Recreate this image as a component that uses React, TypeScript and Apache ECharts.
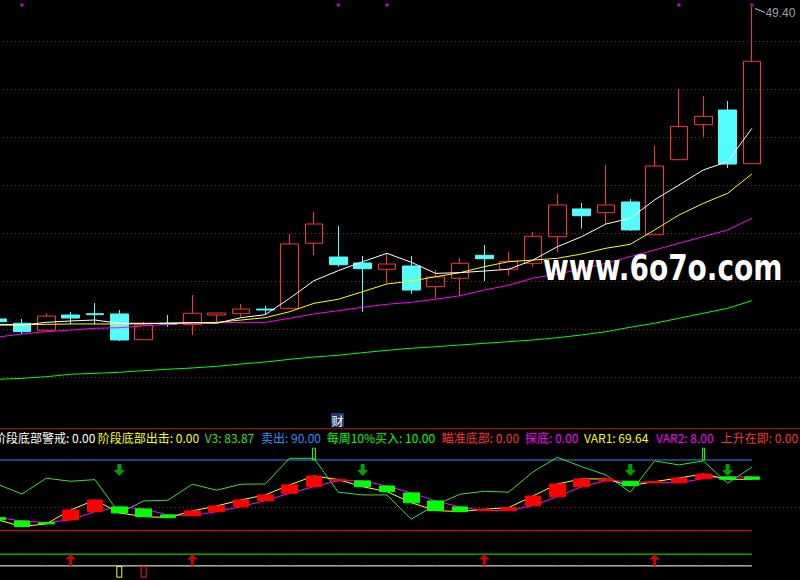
import { useEffect, useRef } from 'react';
import * as echarts from 'echarts';

// ---------- data ----------
const DAYS = ['01','02','03','04','05','06','07','08','09','10','11','12','13','14','15','16',
  '17','18','19','20','21','22','23','24','25','26','27','28','29','30','31','32'];

const OPEN = [22.66, 22.29, 21.69, 23.00, 23.11, 23.09, 20.88, 22.29, 22.17, 23.00, 23.11, 23.51, 23.57, 29.15, 27.97, 27.46,
  26.92, 27.20, 25.43, 26.15, 28.12, 26.92, 27.43, 29.71, 32.09, 31.77, 32.69, 29.88, 36.31, 39.31, 40.57, 35.97];
const CLOSE = [22.43, 21.57, 22.91, 22.74, 23.03, 20.86, 22.14, 22.20, 23.15, 23.17, 23.51, 23.43, 29.09, 30.80, 27.31, 26.97,
  27.37, 25.14, 26.26, 27.43, 27.83, 27.60, 29.75, 32.43, 31.51, 32.43, 30.29, 35.77, 39.17, 40.03, 35.94, 44.75];
const LOW = [22.35, 21.37, 21.69, 22.20, 22.20, 20.77, 20.88, 22.00, 21.29, 22.37, 22.85, 23.09, 23.57, 28.12, 27.14, 23.28,
  25.72, 24.80, 24.46, 24.63, 25.91, 26.37, 27.14, 28.34, 30.40, 30.80, 30.20, 29.88, 36.31, 38.28, 35.60, 35.97];
const HIGH = [22.75, 22.66, 23.17, 23.26, 24.03, 23.43, 22.40, 23.00, 24.71, 23.17, 23.94, 23.77, 29.94, 31.83, 30.63, 28.06,
  28.29, 28.06, 26.86, 27.89, 29.00, 28.40, 30.11, 33.37, 32.60, 35.86, 32.94, 37.49, 42.35, 41.77, 41.34, 49.40];

const MA5 = [22.14, 22.14, 22.37, 22.49, 22.57, 22.29, 22.29, 22.29, 22.34, 22.29, 22.77, 23.03, 24.43, 25.94, 26.80, 27.57,
  28.29, 27.52, 26.57, 26.63, 26.77, 26.92, 27.71, 28.85, 29.71, 30.80, 31.29, 32.86, 34.14, 35.43, 36.14, 39.00];
const MA10 = [22.20, 22.17, 22.20, 22.23, 22.23, 22.23, 22.25, 22.29, 22.34, 22.37, 22.57, 22.77, 23.28, 24.00, 24.35, 25.00,
  25.66, 25.91, 26.28, 26.63, 27.14, 27.57, 27.71, 27.86, 28.23, 28.72, 29.06, 30.29, 31.57, 32.57, 33.43, 35.09];
const MA20 = [21.11, 21.37, 21.57, 21.71, 21.86, 21.91, 22.06, 22.20, 22.29, 22.34, 22.37, 22.37, 22.72, 23.09, 23.37, 23.66,
  23.92, 24.09, 24.35, 24.65, 25.14, 25.55, 26.15, 26.51, 26.94, 27.43, 28.00, 28.57, 29.15, 29.71, 30.29, 31.29];
const MA60 = [17.49, 17.57, 17.71, 17.92, 18.00, 18.09, 18.23, 18.35, 18.46, 18.60, 18.80, 18.97, 19.20, 19.40, 19.55, 19.77,
  19.97, 20.15, 20.28, 20.43, 20.57, 20.71, 20.86, 21.05, 21.29, 21.57, 21.95, 22.29, 22.72, 23.15, 23.57, 24.23];

const TOP_MARK_DAYS = [1, 14, 16, 28, 31];
const TOP_MARK_LEVEL = 49.57;

// lower panel
const V3 = [69.3, 61.1, 74.5, 71.9, 73.3, 44.7, 55.2, 55.8, 69.4, 64.3, 69.4, 69.6, 91.4, 91.4, 62.6, 60.3,
  60.3, 39.7, 51.8, 60.9, 63.4, 62.6, 79.8, 92.3, 84.3, 77.3, 62.6, 89.2, 85.8, 89.2, 70.2, 83.87];
const FAST = [39.1, 33.4, 35.7, 47.5, 56.0, 45.0, 41.9, 41.0, 46.7, 50.9, 56.0, 60.3, 68.8, 76.4, 73.3, 67.3,
  63.1, 53.7, 47.0, 46.1, 48.1, 49.5, 59.4, 69.6, 73.9, 73.9, 68.2, 71.6, 74.7, 78.1, 73.6, 73.6];
const SLOW = [41.0, 38.2, 36.8, 39.1, 46.1, 50.1, 48.4, 43.3, 42.7, 46.1, 50.3, 55.4, 61.7, 67.3, 72.4, 72.2,
  67.9, 62.0, 55.2, 50.1, 47.0, 47.0, 51.2, 58.8, 67.3, 72.4, 71.9, 70.7, 70.7, 74.1, 75.6, 75.6];

const SELL_LEVEL = 90;
const LOW_LEVEL = 30;
const BUY_LEVEL = 10;
const ZERO_LEVEL = 0;

const DOWN_ARROW_DAYS = [5, 15, 26, 30];
const DOWN_ARROW_LEVEL = 81.5;
const UP_ARROW_DAYS = [3, 8, 20, 27];
const UP_ARROW_LEVEL = 4.9;
const STICK_DAYS = [13, 29];
const STICK_RANGE = [90, 100];
const BOTTOM_BAR_DAYS = [5, 6];
const BOTTOM_BAR_VALUE = -10;

const LEGEND_NAMES = ['阶段底部警戒', '阶段底部出击', 'V3', '卖出', '每周10%买入', '瞄准底部', '探底', 'VAR1', 'VAR2', '上升在即'];
const LEGEND_VALUES = [0, 0, V3[V3.length - 1], SELL_LEVEL, BUY_LEVEL, 0, 0, 69.64, 8, 0];

// ---------- layout / style ----------
// the chart canvas starts 15px left of the window so that the first (partial) candle is cut like in the source
const SHIFT = 15;
const LEGEND_X = [-6, 97.7, 204.7, 261, 326.7, 441.7, 525, 584, 656, 720.7];
const LEGEND_COLORS = ['#ffffff', '#ffff00', '#33e033', '#2a8cff', '#00ff00', '#ff3232', '#ff00ff', '#ffff00', '#ff00ff', '#ff3232'];

const GL = 0.5;
const GR = 35.9;
const DOT = '#8a2020';

function buildOption() {
  const maxHigh = Math.max(...HIGH);
  const maxIdx = HIGH.indexOf(maxHigh);
  const level = (v: number) => DAYS.map(() => v);

  const downArrow = 'path://M3.5,0 L7.5,0 L7.5,6 L11,6 L5.5,12 L0,6 L3.5,6 Z';
  const upArrow = 'path://M5.5,0 L11,5.5 L7,5.5 L7,12 L4,12 L4,5.5 L0,5.5 Z';
  const X = (px: number) => px + SHIFT;

  const graphic: any[] = [
    { type: 'line', z: 50, shape: { x1: X(0), y1: 428.5, x2: X(800), y2: 428.5 }, style: { stroke: '#c00000', lineWidth: 1 } },
    { type: 'rect', z: 50, shape: { x: X(331), y: 413, width: 13, height: 14 }, style: { fill: '#1b3b72' } },
    {
      type: 'text', z: 51, x: X(337.5), y: 420,
      style: { text: '财', fill: '#ffffff', font: '12px "Noto Sans CJK SC"', align: 'center', verticalAlign: 'middle', textAlign: 'center', textVerticalAlign: 'middle' },
    },
    {
      type: 'text', z: 60, x: X(543), y: 268, scaleX: 0.8,
      style: { text: 'www.6o7o.com', fill: '#ffffff', font: 'bold 35px "DejaVu Sans"', align: 'left', verticalAlign: 'middle', textAlign: 'left', textVerticalAlign: 'middle' },
    },
    { type: 'line', z: 50, shape: { x1: X(755), y1: 8.5, x2: X(765), y2: 12.5 }, style: { stroke: '#c8c8c8', lineWidth: 1 } },
  ];
  LEGEND_NAMES.forEach((name, i) => {
    graphic.push({
      type: 'text', z: 50, x: X(LEGEND_X[i]), y: 437,
      style: {
        text: `${name}: ${LEGEND_VALUES[i].toFixed(2)}`, fill: LEGEND_COLORS[i], font: '12px "Noto Sans CJK SC"',
        align: 'left', verticalAlign: 'middle', textAlign: 'left', textVerticalAlign: 'middle',
      },
    });
  });

  const lineS = (data: number[], color: string, xi: number, z = 3) => ({
    type: 'line', xAxisIndex: xi, yAxisIndex: xi, data, symbol: 'none', z,
    lineStyle: { color, width: 1 }, itemStyle: { color }, silent: true,
  });

  const gridAxisY = (gi: number, max: number) => ({
    type: 'value', gridIndex: gi, min: 0, max, interval: 1,
    axisLine: { show: false }, axisTick: { show: false }, axisLabel: { show: false },
    splitLine: { show: true, lineStyle: { color: DOT, width: 1, type: [1, 3], dashOffset: 1 } },
  });

  return {
    animation: false,
    backgroundColor: '#000000',
    grid: [
      { left: GL, right: GR, top: 0, height: 420 },
      { left: GL, right: GR, top: 436.44, height: 143.69 },
      { left: SHIFT, right: 0, top: 41, height: 336 },
      { left: SHIFT, right: 0, top: 507, height: 100 },
    ],
    xAxis: [
      { type: 'category', gridIndex: 0, data: DAYS, show: false, boundaryGap: true },
      { type: 'category', gridIndex: 1, data: DAYS, show: false, boundaryGap: true },
      { type: 'value', gridIndex: 2, min: 0, max: 1, show: false },
      { type: 'value', gridIndex: 3, min: 0, max: 1, show: false },
    ],
    yAxis: [
      { type: 'value', gridIndex: 0, min: 14, max: 50, show: false },
      { type: 'value', gridIndex: 1, min: -12, max: 110, show: false },
      gridAxisY(2, 7),
      gridAxisY(3, 1),
    ],
    graphic,
    series: [
      {
        type: 'candlestick', xAxisIndex: 0, yAxisIndex: 0, barWidth: 18, z: 2,
        data: OPEN.map((o, i) => [o, CLOSE[i], LOW[i], HIGH[i]]),
        itemStyle: { color: 'rgba(0,0,0,0)', color0: '#54fcfc', borderColor: '#ff3232', borderColor0: '#54fcfc', borderWidth: 1 },
      },
      lineS(MA60, '#00ff00', 0),
      lineS(MA20, '#ff00ff', 0),
      lineS(MA10, '#ffff00', 0),
      lineS(MA5, '#ffffff', 0),
      {
        type: 'scatter', xAxisIndex: 0, yAxisIndex: 0, symbol: 'rect', symbolSize: 3, z: 5,
        data: TOP_MARK_DAYS.map((d) => [d, TOP_MARK_LEVEL]), itemStyle: { color: '#ff00ff' },
      },
      {
        type: 'scatter', xAxisIndex: 0, yAxisIndex: 0, symbolSize: 1, z: 5,
        data: [[maxIdx, maxHigh]], itemStyle: { color: 'rgba(0,0,0,0)' },
        label: {
          show: true, position: 'right', distance: 0, offset: [13, 6], formatter: maxHigh.toFixed(2),
          color: '#c8c8c8', fontSize: 12, fontFamily: 'Liberation Sans',
        },
      },
      // lower panel
      lineS(level(SELL_LEVEL), '#1e90ff', 1),
      lineS(level(LOW_LEVEL), '#ff0000', 1),
      lineS(level(BUY_LEVEL), '#00ff00', 1),
      lineS(level(ZERO_LEVEL), '#ffffff', 1),
      lineS(V3, '#33e033', 1),
      lineS(SLOW, '#ff00ff', 1),
      lineS(FAST, '#ffff00', 1),
      {
        type: 'candlestick', xAxisIndex: 1, yAxisIndex: 1, barWidth: 16, z: 4,
        data: SLOW.map((s, i) => [s, FAST[i], Math.min(s, FAST[i]), Math.max(s, FAST[i])]),
        itemStyle: { color: '#ff0000', color0: '#00ff00', borderColor: '#ff0000', borderColor0: '#00ff00', borderWidth: 1 },
      },
      {
        type: 'candlestick', xAxisIndex: 1, yAxisIndex: 1, barWidth: 3, z: 4,
        data: DAYS.map((_, i) => (STICK_DAYS.includes(i)
          ? [STICK_RANGE[0], STICK_RANGE[1], STICK_RANGE[0], STICK_RANGE[1]]
          : ['-', '-', '-', '-'])),
        itemStyle: { color: 'rgba(0,0,0,0)', borderColor: '#00ff00', color0: 'rgba(0,0,0,0)', borderColor0: '#00ff00', borderWidth: 1 },
      },
      {
        type: 'bar', xAxisIndex: 1, yAxisIndex: 1, barWidth: 6, z: 4,
        data: DAYS.map((_, i) => {
          const k = BOTTOM_BAR_DAYS.indexOf(i);
          if (k < 0) return '-';
          return {
            value: BOTTOM_BAR_VALUE,
            itemStyle: { color: 'rgba(0,0,0,0)', borderColor: k === 0 ? '#ffff00' : '#ff2020', borderWidth: 1 },
          };
        }),
      },
      {
        type: 'scatter', xAxisIndex: 1, yAxisIndex: 1, symbol: downArrow, symbolSize: [11, 12], z: 6,
        data: DOWN_ARROW_DAYS.map((d) => [d, DOWN_ARROW_LEVEL]), itemStyle: { color: '#00c800' },
      },
      {
        type: 'scatter', xAxisIndex: 1, yAxisIndex: 1, symbol: upArrow, symbolSize: [11, 12], z: 6,
        data: UP_ARROW_DAYS.map((d) => [d, UP_ARROW_LEVEL]), itemStyle: { color: '#ff0000' },
      },
    ],
  };
}

export default function App() {
  const ref = useRef<HTMLDivElement>(null);
  useEffect(() => {
    if (!ref.current) return;
    const chart = echarts.init(ref.current, null, { renderer: 'svg' });
    chart.setOption(buildOption() as any);
    return () => chart.dispose();
  }, []);
  return (
    <div style={{ position: 'fixed', left: 0, top: 0, width: 800, height: 580, overflow: 'hidden', background: '#000000' }}>
      <div
        ref={ref}
        style={{ position: 'absolute', left: -SHIFT, top: 0, width: 800 + SHIFT, height: 580 }}
      />
    </div>
  );
}
